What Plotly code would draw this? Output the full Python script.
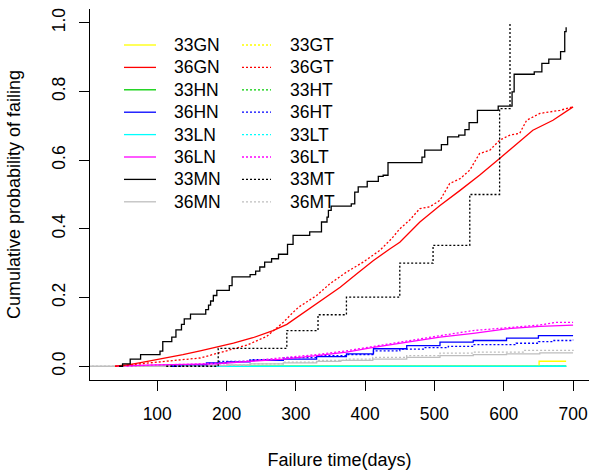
import plotly.graph_objects as go

# ---------------- data ----------------
# 33MN black solid (step)
mn33_x = [45, 50, 61, 76, 104, 108, 121, 127, 135, 139, 148, 170, 174, 177, 181, 186, 204, 208,
          234, 242, 248, 255, 265, 275, 288, 296, 320, 337, 345, 347, 351, 380, 385, 390, 403,
          419, 426, 433, 482, 486, 510, 519, 535, 544, 550, 562, 592, 612, 615, 644, 655, 665,
          682, 688, 690]
mn33_y = [0.0, 0.007, 0.021, 0.034, 0.044, 0.072, 0.085, 0.106, 0.122, 0.138, 0.152, 0.165, 0.178,
          0.19, 0.206, 0.221, 0.235, 0.26, 0.267, 0.277, 0.289, 0.303, 0.313, 0.326, 0.355, 0.381,
          0.391, 0.42, 0.434, 0.454, 0.466, 0.473, 0.507, 0.522, 0.538, 0.553, 0.556, 0.593, 0.609,
          0.629, 0.645, 0.668, 0.673, 0.689, 0.709, 0.745, 0.757, 0.799, 0.85, 0.857, 0.882, 0.894,
          0.916, 0.974, 0.987]
# 33MT black dotted (step)
mt33_x = [113, 188, 287, 332, 373, 450, 498, 551, 594, 609]
mt33_y = [0.0, 0.052, 0.104, 0.15, 0.201, 0.30, 0.352, 0.50, 0.75, 1.0]
# 36GN red solid
gn36_x = [39, 60, 80, 104, 137, 162, 186, 210, 238, 253, 267, 287, 300, 311, 339, 364, 388, 412,
          436, 450, 479, 508, 537, 565, 594, 614, 642, 671, 700]
gn36_y = [0.0, 0.005, 0.012, 0.021, 0.034, 0.045, 0.055, 0.067, 0.083, 0.094, 0.104, 0.122, 0.14,
          0.155, 0.196, 0.23, 0.269, 0.308, 0.342, 0.361, 0.42, 0.468, 0.512, 0.556, 0.605, 0.638,
          0.687, 0.716, 0.755]
# 36GT red dotted
gt36_x = [39, 70, 100, 130, 162, 200, 230, 258, 282, 296, 304, 330, 349, 373, 397, 421, 438, 450,
          464, 479, 493, 508, 512, 522, 537, 551, 565, 580, 594, 609, 623, 633, 652, 681, 700]
gt36_y = [0.0, 0.005, 0.012, 0.018, 0.024, 0.045, 0.062, 0.087, 0.128, 0.157, 0.172, 0.206, 0.24,
          0.274, 0.303, 0.337, 0.371, 0.40, 0.425, 0.459, 0.464, 0.483, 0.498, 0.532, 0.546, 0.571,
          0.619, 0.629, 0.658, 0.673, 0.678, 0.716, 0.736, 0.745, 0.755]
# 36LN magenta solid
ln36_x = [40, 56, 100, 150, 186, 234, 282, 330, 373, 412, 460, 508, 556, 604, 652, 700]
ln36_y = [0.0, 0.002, 0.004, 0.005, 0.007, 0.014, 0.021, 0.031, 0.041, 0.055, 0.07, 0.085, 0.096,
          0.109, 0.116, 0.12]
# 36LT magenta dotted
lt36_x = [56, 100, 150, 186, 234, 282, 330, 373, 412, 460, 508, 556, 604, 652, 676, 700]
lt36_y = [0.0, 0.004, 0.006, 0.009, 0.016, 0.024, 0.034, 0.045, 0.058, 0.075, 0.089, 0.104, 0.112,
          0.12, 0.128, 0.128]
# 36HN blue solid (step)
hn36_x = [120, 125, 171, 200, 234, 282, 330, 373, 412, 460, 508, 556, 604, 650, 700]
hn36_y = [0.0, 0.005, 0.01, 0.013, 0.017, 0.021, 0.028, 0.036, 0.051, 0.06, 0.07, 0.075, 0.082,
          0.089, 0.089]
# 36HT blue dotted (step)
ht36_x = [120, 135, 175, 190, 234, 282, 330, 373, 412, 450, 484, 520, 556, 618, 650, 671, 700]
ht36_y = [0.0, 0.004, 0.008, 0.014, 0.019, 0.025, 0.031, 0.034, 0.045, 0.05, 0.054, 0.058, 0.063,
          0.067, 0.072, 0.075, 0.077]
# 36MN grey solid (step)
mn36_x = [0, 150, 200, 234, 282, 330, 365, 411, 460, 508, 556, 604, 652, 700]
mn36_y = [0.0, 0.002, 0.004, 0.007, 0.01, 0.014, 0.017, 0.021, 0.026, 0.031, 0.034, 0.036, 0.039,
          0.039]
# 36MT grey dotted (step)
mt36_x = [0, 180, 234, 282, 330, 373, 411, 460, 508, 556, 628, 700]
mt36_y = [0.0, 0.003, 0.007, 0.012, 0.017, 0.021, 0.026, 0.031, 0.038, 0.041, 0.046, 0.048]
# 33GN yellow solid (step)
gn33_x = [100, 651, 690]
gn33_y = [0.0, 0.0146, 0.0146]
# 33LN cyan solid
ln33_x = [101, 690]
ln33_y = [0.0, 0.0]
# series with no visible failures (flat at zero)
zero_x = [101, 690]
zero_y = [0.0, 0.0]

labels_N = ["33GN", "36GN", "33HN", "36HN", "33LN", "36LN", "33MN", "36MN"]
labels_T = ["33GT", "36GT", "33HT", "36HT", "33LT", "36LT", "33MT", "36MT"]
colors = ["#FFFF00", "#FF0000", "#00CD00", "#0000FF", "#00FFFF", "#FF00FF", "#000000", "#BEBEBE"]

x_ticks = [100, 200, 300, 400, 500, 600, 700]
y_ticks = [0.0, 0.2, 0.4, 0.6, 0.8, 1.0]

# ---------------- figure ----------------
FONT = "Arial, Liberation Sans, sans-serif"
DOT = "2px,2px"
W, H = 589, 475
ML, MR, MT, MB = 90, 0, 9, 95
PW, PH = W - ML - MR, H - MT - MB

series = {
    "33GN": (gn33_x, gn33_y, "hv"), "36GN": (gn36_x, gn36_y, "linear"),
    "33HN": (zero_x, zero_y, "hv"), "36HN": (hn36_x, hn36_y, "hv"),
    "33LN": (ln33_x, ln33_y, "hv"), "36LN": (ln36_x, ln36_y, "linear"),
    "33MN": (mn33_x, mn33_y, "hv"), "36MN": (mn36_x, mn36_y, "hv"),
    "33GT": (zero_x, zero_y, "hv"), "36GT": (gt36_x, gt36_y, "linear"),
    "33HT": (zero_x, zero_y, "hv"), "36HT": (ht36_x, ht36_y, "hv"),
    "33LT": (zero_x, zero_y, "hv"), "36LT": (lt36_x, lt36_y, "linear"),
    "33MT": (mt33_x, mt33_y, "hv"), "36MT": (mt36_x, mt36_y, "hv"),
}
style = {}
for i, n in enumerate(labels_N):
    style[n] = (colors[i], "solid")
for i, n in enumerate(labels_T):
    style[n] = (colors[i], DOT)

draw_order = ["33HN", "33HT", "33GT", "33LT", "33GN", "33LN", "36MN", "36MT", "36HN", "36HT",
              "36LN", "36LT", "36GN", "36GT", "33MN", "33MT"]

fig = go.Figure()
for name in draw_order:
    xs, ys, shape = series[name]
    col, dash = style[name]
    fig.add_trace(go.Scatter(
        x=xs, y=ys, mode="lines", name=name, showlegend=False,
        line=dict(color=col, width=1.3, dash=dash, shape=shape),
        hoverinfo="skip"))

# ---- legend drawn in two columns (R-style) ----
def px2paper_x(px):
    return (px - ML) / PW

def px2paper_y(py):
    return (H - MB - py) / PH

shapes, annotations = [], []
row0, row_step = 45.0, 22.4
columns = [(labels_N, "solid", 124, 156, 172), (labels_T, DOT, 242, 271, 288)]
for labels, dash, x0, x1, xt in columns:
    for i, name in enumerate(labels):
        yy = px2paper_y(row0 + i * row_step)
        shapes.append(dict(type="line", xref="paper", yref="paper",
                           x0=px2paper_x(x0), x1=px2paper_x(x1), y0=yy, y1=yy,
                           line=dict(color=colors[i], width=1.3, dash=dash)))
        annotations.append(dict(text=name, xref="paper", yref="paper",
                                x=px2paper_x(xt), y=yy, xanchor="left", yanchor="middle",
                                showarrow=False, font=dict(family=FONT, size=17.5, color="black")))

fig.update_layout(
    width=W, height=H,
    margin=dict(l=ML, r=MR, t=MT, b=MB, autoexpand=False),
    paper_bgcolor="white", plot_bgcolor="white",
    font=dict(family=FONT, size=17.5, color="black"),
    showlegend=False,
    shapes=shapes, annotations=annotations,
    xaxis=dict(range=[3, 723], tickvals=x_ticks, ticktext=[str(v) for v in x_ticks],
               showgrid=False, zeroline=False, showline=True, linecolor="black", linewidth=1,
               ticks="outside", ticklen=10, tickwidth=1, tickcolor="black",
               ticklabelstandoff=8, tickfont=dict(size=17.5),
               title=dict(text="Failure time(days)", font=dict(size=18), standoff=30)),
    yaxis=dict(range=[-0.04, 1.04], tickvals=y_ticks, ticktext=[f"{v:.1f}" for v in y_ticks],
               showgrid=False, zeroline=False, showline=True, linecolor="black", linewidth=1,
               ticks="outside", ticklen=10, tickwidth=1, tickcolor="black",
               tickangle=-90, ticklabelstandoff=7, tickfont=dict(size=17.5),
               title=dict(text="Cumulative probability of failing", font=dict(size=18), standoff=23)),
)

fig.write_html("out.html")
